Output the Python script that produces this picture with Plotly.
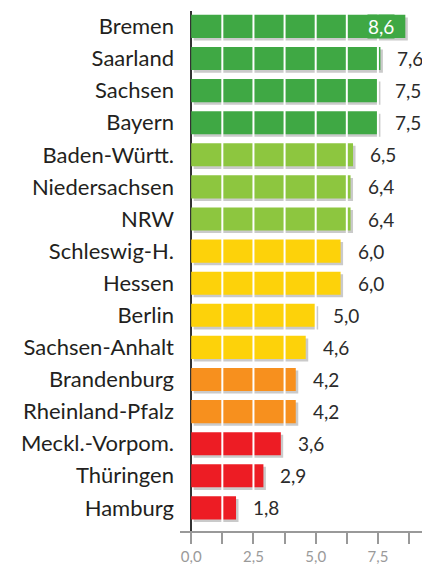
import plotly.graph_objects as go

states = ["Bremen", "Saarland", "Sachsen", "Bayern", "Baden-Württ.", "Niedersachsen",
          "NRW", "Schleswig-H.", "Hessen", "Berlin", "Sachsen-Anhalt", "Brandenburg",
          "Rheinland-Pfalz", "Meckl.-Vorpom.", "Thüringen", "Hamburg"]
values = [8.6, 7.6, 7.5, 7.5, 6.5, 6.4, 6.4, 6.0, 6.0, 5.0, 4.6, 4.2, 4.2, 3.6, 2.9, 1.8]
colors = ["#3fa844"] * 4 + ["#8dc63f"] * 3 + ["#fdd20a"] * 4 + ["#f7901e"] * 2 + ["#ed1c24"] * 3
tick_vals = [0, 1.25, 2.5, 3.75, 5.0, 6.25, 7.5, 8.75]
tick_text = ["0,0", "", "2,5", "", "5,0", "", "7,5", ""]

FONT = "Lato"

fig = go.Figure()
# shadow
fig.add_trace(go.Bar(
    y=states, x=values, orientation="h", base=0.1,
    width=0.72, offset=-0.28,
    marker=dict(color="#cacaca", line=dict(width=0)),
    hoverinfo="skip", showlegend=False,
))
fig.add_trace(go.Bar(
    y=states, x=values, orientation="h",
    width=0.72, offset=-0.36,
    marker=dict(color=colors, line=dict(width=0)),
    showlegend=False,
))

# white segment dividers across the bars at every tick
shapes = [dict(type="line", xref="x", yref="paper", x0=t, x1=t, y0=0, y1=1,
               line=dict(color="white", width=2), layer="above")
          for t in tick_vals if t > 0]

annotations = []
for i, (s, v) in enumerate(zip(states, values)):
    txt = f"{v:.1f}".replace(".", ",")
    if i == 0:
        annotations.append(dict(x=v, y=s, text=txt, showarrow=False, xanchor="center",
                                xshift=-24, bgcolor=colors[0], borderpad=0,
                                font=dict(color="white", size=19, family=FONT)))
    else:
        annotations.append(dict(x=v, y=s, text=txt, showarrow=False, xanchor="center",
                                xshift=30, font=dict(color="#2b2b2b", size=19, family=FONT)))

fig.update_layout(
    width=422, height=565,
    margin=dict(l=180, r=0, t=11, b=34),
    paper_bgcolor="white", plot_bgcolor="white",
    barmode="overlay",
    separators=",.",
    annotations=annotations,
    shapes=shapes,
    font=dict(family=FONT, color="#222222"),
)
fig.update_xaxes(
    range=[-0.45, 9.27], tickvals=tick_vals, ticktext=tick_text,
    showgrid=False,
    zeroline=True, zerolinecolor="#333333", zerolinewidth=1.5,
    showline=True, linecolor="#999999", linewidth=2,
    ticks="outside", ticklen=11, tickcolor="#999999", tickwidth=1.5,
    tickfont=dict(color="#9a9a9a", size=15, family=FONT),
    automargin=False, fixedrange=True,
)
fig.update_yaxes(
    range=[15.72, -0.48], showgrid=False, zeroline=False, showline=False,
    ticks="", ticklabelstandoff=5, automargin=False, fixedrange=True,
    tickfont=dict(size=22, color="#231f20", family=FONT),
)
fig.write_html("out.html",
               config={"displayModeBar": False},
               post_script="document.body.style.margin='0';document.body.style.overflow='hidden';")
